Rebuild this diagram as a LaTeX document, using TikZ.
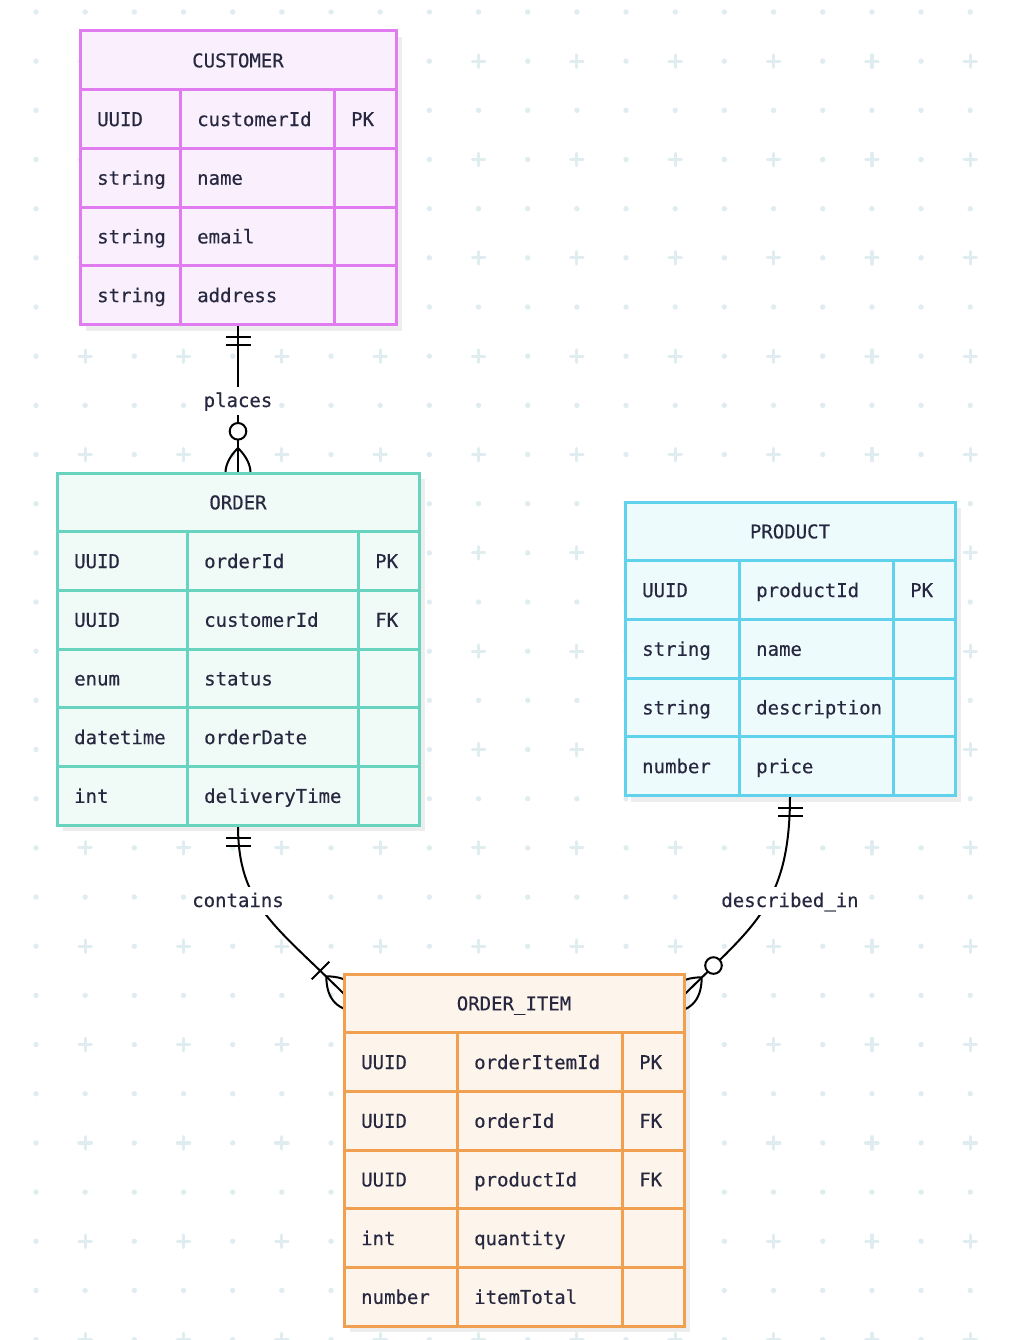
\documentclass[tikz,border=0pt]{standalone}
\usepackage{fontspec}
\setmonofont[FakeBold=0.35]{DejaVu Sans Mono}
\usetikzlibrary{calc}
\definecolor{ink}{HTML}{272840}
\definecolor{gridc}{HTML}{DFEDF1}
\definecolor{shadowc}{HTML}{EDEDED}
\definecolor{cusS}{HTML}{E07CF0}\definecolor{cusF}{HTML}{FAF0FD}
\definecolor{ordS}{HTML}{68D4BF}\definecolor{ordF}{HTML}{F0FAF7}
\definecolor{proS}{HTML}{60D2EC}\definecolor{proF}{HTML}{EEFBFD}
\definecolor{itmS}{HTML}{F0A050}\definecolor{itmF}{HTML}{FDF5EB}
\pgfdeclarelayer{gridlayer}
\pgfdeclarelayer{shadowlayer}
\pgfdeclarelayer{edgelayer}
\pgfsetlayers{gridlayer,shadowlayer,edgelayer,main}
\newcommand\erfont{\ttfamily\fontsize{19}{22}\selectfont}
\tikzset{
  tablebox/.style={draw=#1S, fill=#1F, line width=3pt, inner sep=0pt, outer sep=0pt},
  tableline/.style={draw=#1S, line width=3pt},
  celltext/.style={font=\erfont, text=ink, anchor=base west, inner sep=0pt},
  titletext/.style={font=\erfont, text=ink, anchor=base, inner sep=0pt},
  rel/.style={draw=black, line width=2pt},
  relmark/.style={draw=black, line width=2pt},
  rellabel/.style={font=\erfont, text=ink, fill=white, inner xsep=2pt, inner ysep=0pt,
    text height=15pt, text depth=3pt, minimum height=28pt},
}
% #1 name, #2 x0, #3 y0, #4 x1, #5 c1, #6 c2, #7 colour prefix, #8 title, #9 rows
\newcommand\ertable[9]{%
  \foreach \a/\b/\c [count=\k] in {#9} {\xdef\ern{\k}}%
  \pgfmathsetmacro\ery{#3+58.7*(\ern+1)}%
  \begin{pgfonlayer}{shadowlayer}
    \fill[shadowc] (#2+6,#3+6) rectangle (#4+6,\ery+6);
  \end{pgfonlayer}
  \node[tablebox=#7, minimum width={(#4-#2)*1pt}, minimum height={(\ery-#3)*1pt}]
    (#1) at ({(#2+#4)/2},{(#3+\ery)/2}) {};
  \foreach \k in {1,...,\ern} {\draw[tableline=#7] (#2,{#3+58.7*\k}) -- (#4,{#3+58.7*\k});}
  \draw[tableline=#7] (#5,#3+58.7) -- (#5,\ery) (#6,#3+58.7) -- (#6,\ery);
  \node[titletext] (#1-title) at ({(#2+#4)/2},{#3+36.35}) {#8};
  \foreach \a/\b/\c [count=\k] in {#9} {
    \node[celltext] (#1-type\k) at (#2+17,{#3+58.7*\k+36.35}) {\a};
    \node[celltext] (#1-name\k) at (#5+17,{#3+58.7*\k+36.35}) {\b};
    \node[celltext] (#1-key\k) at (#6+17,{#3+58.7*\k+36.35}) {\c};
  }
}
\newcommand\crowfoot{\draw[relmark] (25,0) .. controls (8.33,16.67) and (-8.33,16.67) .. (-25,0)
  (25,0) .. controls (8.33,-16.67) and (-8.33,-16.67) .. (-25,0);}
\newcommand\markOne[2]{\begin{scope}[shift={(#1)}, rotate=#2]
  \draw[relmark] (12.5,-12.5) -- (12.5,12.5) (20.8,-12.5) -- (20.8,12.5);
\end{scope}}
\newcommand\markZeroMany[2]{\begin{scope}[shift={(#1)}, rotate=#2]
  \crowfoot
  \draw[relmark, fill=white] (41.7,0) circle[radius=8.3];
\end{scope}}
\newcommand\markOneMany[2]{\begin{scope}[shift={(#1)}, rotate=#2]
  \crowfoot
  \draw[relmark] (33.3,-12.5) -- (33.3,12.5);
\end{scope}}
\begin{document}
\begin{tikzpicture}[x=1pt,y=-1pt]
\useasboundingbox (0,0) rectangle (1016,1340);
% background grid
\begin{pgfonlayer}{gridlayer}
\fill[white] (0,0) rectangle (1016,1340);
\foreach \i in {0,...,19}{
  \foreach \j in {0,...,27}{
    \pgfmathtruncatemacro\both{mod(\i,2)*mod(\j,2)}
    \ifnum\both=0 \fill[gridc] ({36+49.17*\i},{12+49.17*\j}) circle[radius=2.7];\fi
  }
}
\foreach \i in {1,3,...,19}{
  \foreach \j in {1,3,...,27}{
    \draw[gridc, line width=3.2pt, line cap=round]
      ({36+49.17*\i-6.2},{12+49.17*\j}) -- ++(12.4,0)
      ({36+49.17*\i},{12+49.17*\j-6.2}) -- ++(0,12.4);
  }
}
\end{pgfonlayer}
% tables
\ertable{customer}{80}{31}{396}{180}{334}{cus}{CUSTOMER}
  {UUID/customerId/PK, string/name/{}, string/email/{}, string/address/{}}
\ertable{order}{57}{473}{419}{187}{358}{ord}{ORDER}
  {UUID/orderId/PK, UUID/customerId/FK, enum/status/{}, datetime/orderDate/{}, int/deliveryTime/{}}
\ertable{product}{625}{502}{955}{739}{893}{pro}{PRODUCT}
  {UUID/productId/PK, string/name/{}, string/description/{}, number/price/{}}
\ertable{orderitem}{344}{974}{684}{457}{622}{itm}{ORDER\_ITEM}
  {UUID/orderItemId/PK, UUID/orderId/FK, UUID/productId/FK, int/quantity/{}, number/itemTotal/{}}
\coordinate (oiL) at ($(orderitem.north west)+(0,20)$);
\coordinate (oiR) at ($(orderitem.north east)+(0,21)$);
% relationship labels
\node[rellabel] (lplaces) at (238,401) {places};
\node[rellabel] (lcontains) at (238,901) {contains};
\node[rellabel] (ldescribed) at (790,901) {described\_in};
% relationships
\begin{pgfonlayer}{edgelayer}
\draw[rel] (customer.south) -- (order.north);
\markOne{customer.south}{-90}
\markZeroMany{order.north}{90}
\draw[rel] (order.south) .. controls (238,905) and (275,925) .. (oiL);
\markOne{order.south}{-90}
\markOneMany{oiL}{135}
\draw[rel] (product.south) .. controls (790,905) and (753,926) .. (oiR);
\markOne{product.south}{-90}
\markZeroMany{oiR}{45}
\end{pgfonlayer}
\end{tikzpicture}
\end{document}
